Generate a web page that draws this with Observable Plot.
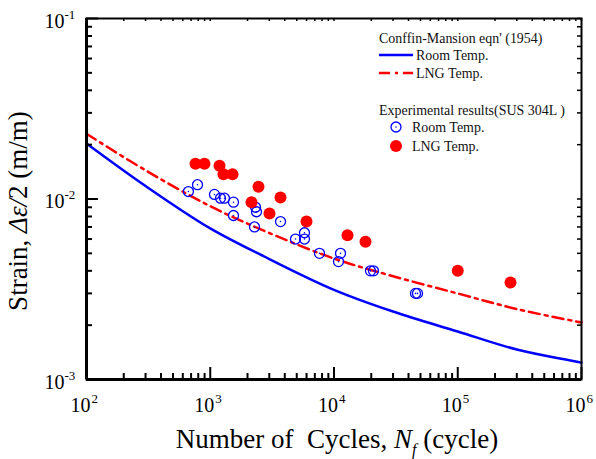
<!DOCTYPE html>
<html>
<head>
<meta charset="utf-8">
<script src="https://cdn.jsdelivr.net/npm/d3@7"></script>
<script src="https://cdn.jsdelivr.net/npm/@observablehq/plot@0.6"></script>
<style>
  body { margin: 0; background: #fff; }
  #wrap { position: relative; width: 596px; height: 459px; }
  #legend { position: absolute; left: 0; top: 0; font-family: "Liberation Serif", serif; font-size: 15px; color: #111; }
  .lrow { position: absolute; display: flex; align-items: center; height: 18px; white-space: nowrap; }
  .lrow svg { flex: none; }
  .lrow span { display: inline-block; transform: scaleX(0.93); transform-origin: left center; }
  #xtitle { position: absolute; left: 137px; width: 400px; top: 424px; text-align: center; white-space: pre;
            font-family: "Liberation Serif", serif; font-size: 27px; line-height: 30px; color: #000; }
  #xtitle i { font-style: italic; }
  #xtitle .sub { font-size: 16px; position: relative; top: 7px; font-style: italic; }
</style>
</head>
<body>
<div id="wrap"><div id="legend"></div><div id="xtitle"></div></div>
<script>
// ---------- data ----------
// Experimental results, SUS 304L, room temperature
const roomN      = [666, 789, 1082, 1210, 1303, 1541, 1541, 2321, 2364, 2279, 3696, 4886, 5775, 5775, 7634, 11290, 10870, 19720, 20850, 45560, 47280];
const roomStrain = [0.0110, 0.0120, 0.0106, 0.0101, 0.0101, 0.0096, 0.0081, 0.0090, 0.0085, 0.0070, 0.0075, 0.0060, 0.0065, 0.0060, 0.0050, 0.0050, 0.0045, 0.0040, 0.0040, 0.0030, 0.0030];
// Experimental results, SUS 304L, LNG temperature
const lngN       = [760, 898, 1188, 1279, 1513, 2454, 2154, 3696, 3011, 5995, 12860, 17970, 100000, 266900];
const lngStrain  = [0.0157, 0.0157, 0.0153, 0.0137, 0.0137, 0.0117, 0.0096, 0.0102, 0.0083, 0.0075, 0.0063, 0.0058, 0.0040, 0.00345];
// Coffin-Manson curves
const cmN        = [100, 300, 1000, 3000, 10000, 30000, 100000, 300000, 1000000];
const cmRoom     = [0.0203, 0.0118, 0.00687, 0.00465, 0.00314, 0.00238, 0.001845, 0.001466, 0.001242];
const cmLng      = [0.02297, 0.01442, 0.00912, 0.00648, 0.00468, 0.003735, 0.002996, 0.002455, 0.00207];
// tick labels
const xTickValues = [100, 1000, 10000, 100000, 1000000];
const xTickExp    = ["2", "3", "4", "5", "6"];
const yTickValues = [0.001, 0.01, 0.1];
const yTickExp    = ["-3", "-2", "-1"];
// legend texts
const legendCurveTitle = "Conffin-Mansion eqn' (1954)";
const legendExpTitle   = "Experimental results(SUS 304L )";
const seriesLabels     = ["Room Temp.", "LNG Temp."];

// ---------- build ----------
const W = 596, H = 459;
const mt = 18, mb = 80, ml = 86, mr = 15;
const innerW = W - ml - mr, innerH = H - mt - mb;
const BLUE = "#0000ff", RED = "#ff0000";
const FONT = "Liberation Serif";

const room = roomN.map((n, i) => ({n, s: roomStrain[i]}));
const lng = lngN.map((n, i) => ({n, s: lngStrain[i]}));
const cmRoomData = cmN.map((n, i) => ({n, s: cmRoom[i]}));
const cmLngData = cmN.map((n, i) => ({n, s: cmLng[i]}));

const xMinor = [], yMinor = [];
for (let e = 2; e < 6; e++) for (let k = 2; k <= 9; k++) xMinor.push(k * Math.pow(10, e));
for (let e = -3; e < -1; e++) for (let k = 2; k <= 9; k++) yMinor.push(+(k * Math.pow(10, e)).toPrecision(3));

const xT = xTickValues.map((v, i) => ({v, e: xTickExp[i]}));
const yT = yTickValues.map((v, i) => ({v, e: yTickExp[i]}));

const txt = {fontFamily: FONT, fill: "#000", lineAnchor: "middle"};

const plot = Plot.plot({
  width: W, height: H,
  marginTop: mt, marginBottom: mb, marginLeft: ml, marginRight: mr,
  x: {type: "log", domain: [100, 1e6], axis: null},
  y: {type: "log", domain: [0.001, 0.1], axis: null},
  marks: [
    // curves
    Plot.line(cmRoomData, {x: "n", y: "s", stroke: BLUE, strokeWidth: 2.5, curve: "catmull-rom"}),
    Plot.line(cmLngData, {x: "n", y: "s", stroke: RED, strokeWidth: 2.5, strokeDasharray: "11,5,3,5", curve: "catmull-rom"}),
    // points
    Plot.dot(room, {x: "n", y: "s", r: 5, stroke: BLUE, strokeWidth: 1.3, fill: "none"}),
    Plot.dot(room, {x: "n", y: "s", r: 0.8, fill: BLUE}),
    Plot.dot(lng, {x: "n", y: "s", r: 6, fill: RED}),
    // inward ticks: bottom
    Plot.ruleX(xTickValues, {stroke: "#000", strokeWidth: 2, insetTop: innerH - 12}),
    Plot.ruleX(xMinor, {stroke: "#000", strokeWidth: 2, insetTop: innerH - 6}),
    // top
    Plot.ruleX(xTickValues.concat(xMinor), {stroke: "#000", strokeWidth: 1.5, insetBottom: innerH - 3}),
    // left
    Plot.ruleY(yTickValues, {stroke: "#000", strokeWidth: 2, insetRight: innerW - 12}),
    Plot.ruleY(yMinor, {stroke: "#000", strokeWidth: 2, insetRight: innerW - 6}),
    // right
    Plot.ruleY(yTickValues.concat(yMinor), {stroke: "#000", strokeWidth: 1.5, insetLeft: innerW - 4}),
    // frame
    Plot.frame({stroke: "#000", strokeWidth: 2}),
    Plot.ruleX([100], {stroke: "#000", strokeWidth: 3}),
    Plot.ruleY([0.001], {stroke: "#000", strokeWidth: 3}),
    // x tick labels
    Plot.text(xT, {...txt, x: "v", text: () => "10", frameAnchor: "bottom", textAnchor: "end", dx: 4, dy: 26, fontSize: 20}),
    Plot.text(xT, {...txt, x: "v", text: "e", frameAnchor: "bottom", textAnchor: "start", dx: 5, dy: 19, fontSize: 13}),
    // y tick labels
    Plot.text(yT, {...txt, y: "v", text: () => "10", frameAnchor: "left", textAnchor: "end", dx: -22, dy: 3, fontSize: 20}),
    Plot.text(yT, {...txt, y: "v", text: "e", frameAnchor: "left", textAnchor: "start", dx: -22, dy: -4, fontSize: 13}),
    // y axis title
    Plot.text(["Strain, Δε/2 (m/m)"], {...txt, text: d => d, frameAnchor: "left", textAnchor: "middle", rotate: -90, dx: -68, dy: 12, fontSize: 27, className: "ytitle"})
  ]
});

document.getElementById("wrap").prepend(plot);

const yt = plot.querySelector(".ytitle text");
if (yt) {
  yt.innerHTML = 'Strain, <tspan font-style="italic">Δε/</tspan>2 (m/m)';
}

// x axis title (below the frame)
document.getElementById("xtitle").innerHTML = 'Number of&#160; Cycles, <i>N</i><span class="sub">f</span> (cycle)';

// ---------- legend (inside the frame, upper right) ----------
const legend = document.getElementById("legend");
function row(top, left, swatch, label) {
  const d = document.createElement("div");
  d.className = "lrow";
  d.style.top = top + "px";
  d.style.left = left + "px";
  d.innerHTML = swatch + (label ? `<span>${label}</span>` : "");
  legend.appendChild(d);
}
row(29, 379, "", legendCurveTitle);
row(46, 379, `<svg width="37" height="18"><line x1="0" x2="34" y1="9" y2="9" stroke="${BLUE}" stroke-width="2.5"/></svg>`, seriesLabels[0]);
row(64, 379, `<svg width="37" height="18"><line x1="0" x2="34" y1="9" y2="9" stroke="${RED}" stroke-width="2.5" stroke-dasharray="11,5,3,5"/></svg>`, seriesLabels[1]);
row(101, 379, "", legendExpTitle);
row(118, 379, `<svg width="33" height="18"><circle cx="17" cy="9" r="5" fill="none" stroke="${BLUE}" stroke-width="1.3"/><circle cx="17" cy="9" r="0.8" fill="${BLUE}"/></svg>`, seriesLabels[0]);
row(137, 379, `<svg width="33" height="18"><circle cx="17" cy="9" r="6" fill="${RED}"/></svg>`, seriesLabels[1]);
</script>
</body>
</html>
